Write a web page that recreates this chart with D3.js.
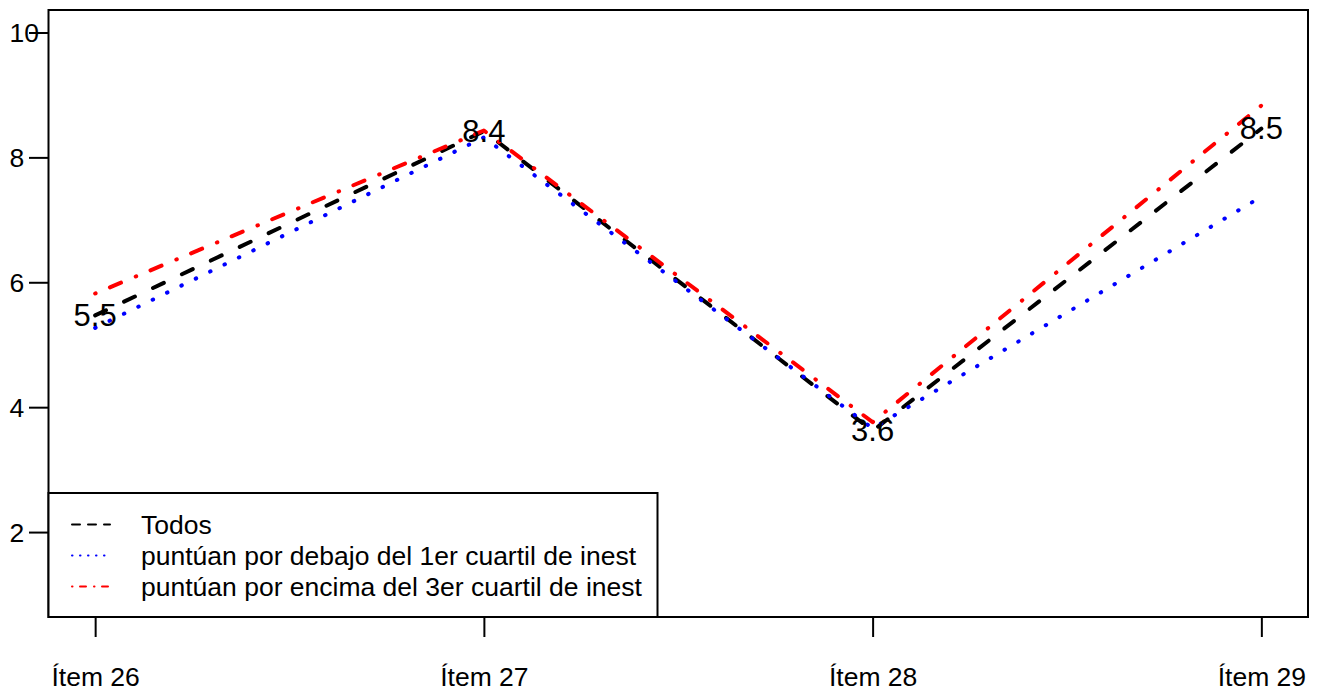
<!DOCTYPE html>
<html><head><meta charset="utf-8">
<script src="https://cdn.jsdelivr.net/npm/d3@7"></script>
<style>body{margin:0;background:#fff}svg{display:block}text{font-family:"Liberation Sans",Arial,sans-serif;fill:#000}</style>
</head><body>
<script>
const categories = ["Ítem 26","Ítem 27","Ítem 28","Ítem 29"];
const todos = [5.47, 8.42, 3.62, 8.46];
const debajo = [5.27, 8.32, 3.66, 7.37];
const encima = [5.82, 8.43, 3.76, 8.83];
const labels = ["5.5","8.4","3.6","8.5"];
const yTicks = [2,4,6,8,10];
const seriesNames = ["Todos","puntúan por debajo del 1er cuartil de inest","puntúan por encima del 3er cuartil de inest"];

const W=1324,H=691;
const L=48.5,R=1308,T=10,B=617;
const svg=d3.select("body").append("svg").attr("width",W).attr("height",H);
const x=d3.scaleLinear().domain([0.88,4.12]).range([L,R]);
const y=d3.scaleLinear().domain([0.64,10.36]).range([B,T]);
const fs=26.5, vfs=31;

const series=[
 {v:todos,color:"#000",dash:"12,20",ldash:"8,8"},
 {v:debajo,color:"#0000ff",dash:"0.5,15.5",ldash:"0.5,7.5"},
 {v:encima,color:"#ff0000",dash:"0.5,15.5,12,16",ldash:"0.5,7.5,6,8"}
];
const line=d3.line().x((d,i)=>x(i+1)).y(d=>y(d));
series.forEach(s=>{
  svg.append("path").attr("d",line(s.v)).attr("fill","none").attr("stroke",s.color)
   .attr("stroke-width",4).attr("stroke-dasharray",s.dash).attr("stroke-linecap","round").attr("stroke-linejoin","round");
});
// value labels
svg.selectAll(".vl").data(labels).enter().append("text").attr("class","vl")
 .attr("x",(d,i)=>x(i+1)).attr("y",(d,i)=>y(todos[i])).attr("text-anchor","middle")
 .attr("dominant-baseline","central").style("font-size",vfs+"px").text(d=>d);

// box
svg.append("rect").attr("x",L).attr("y",T).attr("width",R-L).attr("height",B-T)
 .attr("fill","none").attr("stroke","#000").attr("stroke-width",2);

// y axis
const ya=svg.append("g").attr("transform",`translate(${L},0)`)
 .call(d3.axisLeft(y).tickValues(yTicks).tickSize(19.5).tickFormat(d3.format("d")));
ya.select(".domain").remove();
ya.selectAll("line").attr("stroke","#000").attr("stroke-width",2);
ya.selectAll("text").attr("x",-39).attr("text-anchor","start").attr("dy",null)
 .attr("dominant-baseline","central").style("font-size",fs+"px").style("font-family","Liberation Sans, Arial, sans-serif");

// x axis
const xa=svg.append("g").attr("transform",`translate(0,${B})`)
 .call(d3.axisBottom(x).tickValues([1,2,3,4]).tickSize(20).tickFormat((d,i)=>categories[i]));
xa.select(".domain").remove();
xa.selectAll("line").attr("stroke","#000").attr("stroke-width",2);
xa.selectAll("text").attr("y",69).attr("dy",null).style("font-size",fs+"px").style("font-family","Liberation Sans, Arial, sans-serif");

// legend
const lg=svg.append("g");
lg.append("rect").attr("x",L).attr("y",493).attr("width",657.5-L).attr("height",B-493)
 .attr("fill","#fff").attr("stroke","#000").attr("stroke-width",2);
const ly=[524.5,555.5,586.5];
series.forEach((s,i)=>{
  lg.append("line").attr("x1",72).attr("x2",110).attr("y1",ly[i]).attr("y2",ly[i])
   .attr("stroke",s.color).attr("stroke-width",2).attr("stroke-dasharray",s.ldash).attr("stroke-linecap","round");
  lg.append("text").attr("x",141).attr("y",ly[i]).attr("dominant-baseline","central")
   .style("font-size",fs+"px").text(seriesNames[i]);
});
</script>
</body></html>
